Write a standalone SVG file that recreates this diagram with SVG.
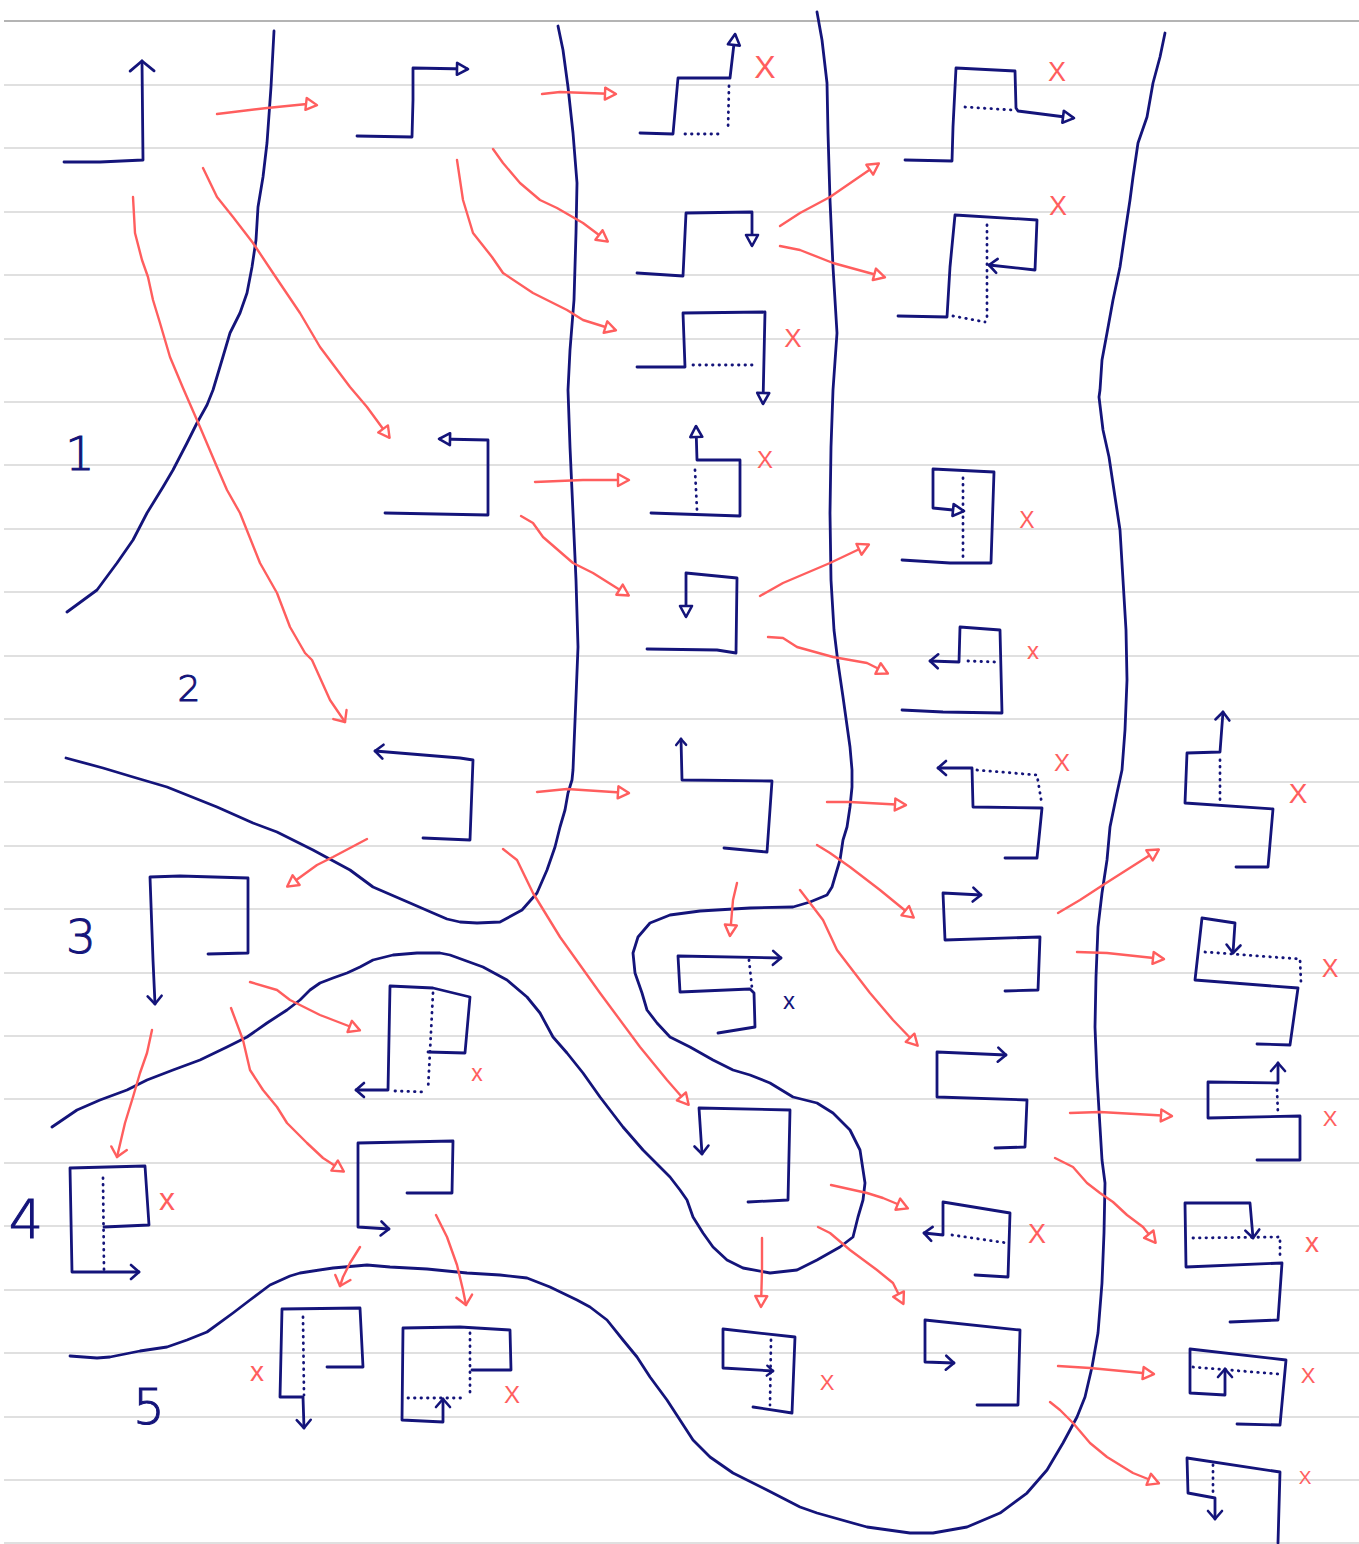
<svg xmlns="http://www.w3.org/2000/svg" width="1359" height="1544" viewBox="0 0 1359 1544">
<style>
.rule{stroke:#d6d6d6;stroke-width:1.6;fill:none}
.b{stroke:#14147a;stroke-width:2.8;fill:none;stroke-linejoin:round;stroke-linecap:round}
.dot{stroke:#14147a;stroke-width:2.8;fill:none;stroke-dasharray:0.5 6;stroke-linecap:round}
.r{stroke:#ff5e5e;stroke-width:2.4;fill:none;stroke-linejoin:round;stroke-linecap:round}
.bt{marker-end:url(#bTri)}
.bc{marker-end:url(#bChev)}
.bs{marker-end:url(#bChevS)}
.rt{marker-end:url(#rTri)}
.rc{marker-end:url(#rChev)}
.xr{fill:#ff5e5e;font-family:"Liberation Sans",Arial,sans-serif;text-anchor:middle}
.xb{fill:#14147a;font-family:"Liberation Sans",Arial,sans-serif;text-anchor:middle}
.num{fill:#14147a;stroke:#14147a;stroke-width:1;font-family:"DejaVu Sans","Liberation Sans",sans-serif;font-weight:200;text-anchor:middle}
</style>
<defs>
<marker id="bTri" markerUnits="userSpaceOnUse" markerWidth="24" markerHeight="24" viewBox="-16 -12 24 24" refX="0" refY="0" orient="auto" overflow="visible"><path d="M1,0 L-10,-6 L-10,6 Z" fill="#fff" stroke="#14147a" stroke-width="2.6" stroke-linejoin="round"/></marker>
<marker id="bChev" markerUnits="userSpaceOnUse" markerWidth="24" markerHeight="24" viewBox="-16 -12 24 24" refX="0" refY="0" orient="auto" overflow="visible"><path d="M-8,-7 L0,0 L-8,7" fill="none" stroke="#14147a" stroke-width="2.6" stroke-linecap="round" stroke-linejoin="round"/></marker>
<marker id="bChevL" markerUnits="userSpaceOnUse" markerWidth="30" markerHeight="30" viewBox="-16 -15 30 30" refX="0" refY="0" orient="auto" overflow="visible"><path d="M-10,-12 L0,0 L-10,12" fill="none" stroke="#14147a" stroke-width="2.8" stroke-linecap="round" stroke-linejoin="round"/></marker>
<marker id="bChevS" markerUnits="userSpaceOnUse" markerWidth="20" markerHeight="20" viewBox="-12 -10 20 20" refX="0" refY="0" orient="auto" overflow="visible"><path d="M-6,-5 L0,0 L-6,5" fill="none" stroke="#14147a" stroke-width="2.4" stroke-linecap="round" stroke-linejoin="round"/></marker>
<marker id="rTri" markerUnits="userSpaceOnUse" markerWidth="24" markerHeight="24" viewBox="-16 -12 24 24" refX="0" refY="0" orient="auto" overflow="visible"><path d="M1,0 L-10,-6 L-10,6 Z" fill="#fff" stroke="#ff5e5e" stroke-width="2.4" stroke-linejoin="round"/></marker>
<marker id="rChev" markerUnits="userSpaceOnUse" markerWidth="24" markerHeight="24" viewBox="-16 -12 24 24" refX="0" refY="0" orient="auto" overflow="visible"><path d="M-9,-8 L0,0 L-9,8" fill="none" stroke="#ff5e5e" stroke-width="2.4" stroke-linecap="round" stroke-linejoin="round"/></marker>
</defs>
<rect width="1359" height="1544" fill="#fff"/>
<g id="ruling">
<line x1="4" y1="21" x2="1359" y2="21" stroke="#b4b4b4" stroke-width="1.8"/>
<path class="rule" d="M4,85H1359M4,148H1359M4,212H1359M4,275H1359M4,339H1359M4,402H1359M4,465H1359M4,529H1359M4,592H1359M4,656H1359M4,719H1359M4,782H1359M4,846H1359M4,909H1359M4,973H1359M4,1036H1359M4,1099H1359M4,1163H1359M4,1226H1359M4,1290H1359M4,1353H1359M4,1417H1359M4,1480H1359M4,1543H1359"/>
</g>
<g id="regions">
<path class="b" d="M274,31 L271,87 L267,143 L263,177 L258,207 L256,240 L252,267 L247,293 L240,313 L230,333 L222,360 L213,390 L207,405 L197,423 L187,443 L173,470 L163,487 L147,513 L133,540 L117,563 L97,590 L67,612"/>
<path class="b" d="M558,26 L563,50 L568,87 L573,133 L577,183 L576,233 L574,300 L570,350 L568,390 L570,447 L573,513 L576,580 L578,647 L576,697 L573,770 L572,780 L568,793 L565,810 L560,827 L555,847 L547,870 L537,893 L522,910 L500,922 L477,923 L460,922 L447,919 L433,913 L410,903 L373,887 L350,870 L313,850 L277,832 L253,823 L217,807 L167,787 L133,777 L103,768 L66,758"/>
<path class="b" d="M817,12 L822,40 L827,83 L828,133 L830,200 L833,267 L837,333 L833,390 L831,447 L830,513 L831,580 L834,630 L838,663 L843,697 L850,747 L852,770 L852,787 L850,807 L847,827 L843,840 L840,860 L837,870 L832,887 L827,895 L810,902 L793,907 L750,908 L700,911 L670,915 L650,923 L638,937 L633,953 L635,973 L642,993 L647,1010 L657,1023 L670,1037 L690,1047 L713,1060 L733,1070 L750,1075 L770,1083 L793,1097 L817,1103 L833,1113 L850,1130 L860,1150 L865,1183 L863,1200 L858,1217 L853,1237 L840,1247 L817,1260 L797,1270 L770,1273 L743,1268 L727,1260 L713,1247 L703,1233 L693,1217 L687,1200 L680,1190 L670,1177 L660,1167 L643,1150 L623,1127 L600,1097 L583,1073 L567,1053 L553,1037 L540,1013 L527,997 L507,980 L483,967 L450,955 L440,953 L417,953 L393,955 L373,960 L360,967 L347,973 L333,978 L320,983 L310,990 L300,1000 L287,1010 L267,1023 L247,1037 L227,1047 L200,1060 L173,1070 L147,1080 L127,1090 L100,1100 L77,1110 L52,1127"/>
<path class="b" d="M1165,33 L1160,57 L1153,83 L1147,117 L1138,143 L1133,177 L1130,200 L1125,233 L1120,267 L1113,300 L1107,333 L1102,360 L1100,390 L1099,397 L1103,430 L1109,457 L1115,497 L1120,530 L1123,580 L1126,630 L1127,680 L1125,730 L1122,770 L1117,793 L1110,827 L1107,860 L1102,893 L1098,927 L1096,977 L1095,1027 L1097,1077 L1100,1127 L1102,1160 L1105,1183 L1104,1233 L1102,1283 L1098,1333 L1092,1367 L1085,1397 L1077,1417 L1063,1443 L1047,1470 L1027,1493 L1000,1513 L967,1527 L933,1533 L910,1533 L867,1527 L817,1513 L800,1507 L767,1490 L733,1473 L710,1457 L693,1440 L680,1420 L667,1400 L650,1377 L637,1357 L623,1340 L607,1320 L590,1307 L577,1300 L550,1287 L527,1278 L500,1275 L467,1273 L427,1269 L390,1267 L367,1265 L333,1268 L300,1273 L290,1276 L270,1285 L250,1300 L233,1313 L207,1332 L187,1340 L167,1347 L140,1351 L110,1357 L97,1358 L70,1356"/>
<text class="num" x="80" y="470" font-size="46">1</text>
<text class="num" x="189" y="701" font-size="36">2</text>
<text class="num" x="81" y="953" font-size="47">3</text>
<text class="num" x="26" y="1238" font-size="54">4</text>
<text class="num" x="149" y="1424" font-size="50">5</text>
</g>
<g id="connectors">
<path class="r rt" d="M217,114 L267,108 L307,104 L316,105"/>
<path class="r rt" d="M542,94 L560,92 L615,94"/>
<path class="r rt" d="M457,160 L463,200 L473,233 L492,257 L503,273 L533,293 L567,310 L583,320 L615,330"/>
<path class="r rt" d="M493,149 L503,163 L520,183 L540,200 L557,208 L583,223 L607,241"/>
<path class="r rt" d="M203,168 L217,197 L233,217 L253,243 L273,273 L300,313 L320,347 L350,387 L367,407 L389,437"/>
<path class="r rc" d="M133,197 L135,233 L142,260 L148,277 L153,300 L160,323 L170,357 L183,388 L200,427 L217,467 L227,490 L240,513 L260,563 L277,593 L290,627 L305,653 L312,660 L330,700 L345,722"/>
<path class="r rt" d="M780,226 L800,213 L830,197 L878,164"/>
<path class="r rt" d="M780,246 L800,250 L833,263 L884,277"/>
<path class="r rt" d="M535,482 L583,480 L628,480"/>
<path class="r rt" d="M521,516 L533,523 L543,537 L573,563 L593,573 L628,595"/>
<path class="r rt" d="M760,596 L783,583 L830,563 L868,545"/>
<path class="r rt" d="M768,637 L783,638 L797,647 L833,657 L867,663 L887,673"/>
<path class="r rt" d="M537,792 L567,789 L628,793"/>
<path class="r rt" d="M367,839 L333,857 L317,865 L288,886"/>
<path class="r rt" d="M503,849 L517,860 L533,893 L560,937 L600,993 L640,1047 L667,1080 L688,1104"/>
<path class="r rt" d="M827,802 L850,802 L905,805"/>
<path class="r rt" d="M817,845 L830,853 L850,867 L880,890 L913,917"/>
<path class="r rt" d="M737,883 L733,900 L730,935"/>
<path class="r rt" d="M800,890 L810,903 L823,920 L837,950 L850,967 L870,993 L893,1020 L917,1045"/>
<path class="r rt" d="M1058,913 L1080,900 L1103,885 L1158,850"/>
<path class="r rt" d="M1077,952 L1107,953 L1163,959"/>
<path class="r rt" d="M250,982 L277,990 L290,1000 L300,1005 L320,1015 L333,1020 L359,1030"/>
<path class="r rc" d="M152,1030 L147,1053 L140,1073 L133,1097 L125,1123 L117,1157"/>
<path class="r rt" d="M231,1008 L243,1040 L250,1070 L263,1090 L277,1107 L287,1123 L307,1143 L323,1158 L343,1171"/>
<path class="r rt" d="M1070,1113 L1100,1112 L1171,1116"/>
<path class="r rt" d="M1055,1158 L1073,1167 L1087,1183 L1100,1193 L1113,1202 L1127,1215 L1143,1227 L1155,1242"/>
<path class="r rt" d="M831,1185 L867,1193 L883,1198 L907,1208"/>
<path class="r rt" d="M818,1227 L830,1233 L850,1250 L877,1270 L893,1283 L903,1303"/>
<path class="r rt" d="M762,1238 L762,1270 L761,1306"/>
<path class="r rc" d="M360,1247 L350,1263 L343,1277 L340,1286"/>
<path class="r rc" d="M436,1215 L447,1237 L457,1265 L463,1290 L466,1305"/>
<path class="r rt" d="M1058,1366 L1090,1368 L1153,1374"/>
<path class="r rt" d="M1050,1402 L1060,1410 L1073,1423 L1090,1443 L1107,1457 L1133,1473 L1158,1483"/>
</g>
<g id="n1"><path class="b" style="marker-end:url(#bChevL)" d="M64,162 L100,162 L143,160 L142,61"/></g>
<g id="n2"><path class="b bt" d="M357,136 L412,137 L413,100 L413,68 L467,69"/></g>
<g id="n3"><path class="b bt" d="M640,133 L673,134 L678,78 L730,78 L735,35"/><path class="dot" d="M729,86 L728,130 M685,134 L723,134"/><text class="xr" x="765" y="78" font-size="32">X</text></g>
<g id="n4"><path class="b bt" d="M637,273 L683,276 L686,213 L752,212 L752,245"/></g>
<g id="n5"><path class="b bt" d="M637,367 L685,367 L683,313 L765,312 L763,403"/><path class="dot" d="M693,365 L758,365"/><text class="xr" x="793" y="347" font-size="26">X</text></g>
<g id="n6"><path class="b bt" d="M905,160 L952,161 L953,127 L956,68 L1015,71 L1016,108 L1018,111 L1073,118"/><path class="dot" d="M965,107 L1012,110"/><text class="xr" x="1057" y="81" font-size="27">X</text></g>
<g id="n7"><path class="b bc" d="M898,316 L947,317 L950,267 L955,215 L1037,220 L1035,270 L989,265"/><path class="dot" d="M987,225 L987,320 M953,316 L985,322"/><text class="xr" x="1058" y="215" font-size="27">X</text></g>
<g id="n8"><path class="b bt" d="M385,513 L488,515 L488,440 L440,439"/></g>
<g id="n9"><path class="b bt" d="M651,513 L740,516 L740,460 L697,460 L696,427"/><path class="dot" d="M695,470 L697,510"/><text class="xr" x="765" y="468" font-size="24">X</text></g>
<g id="n10"><path class="b" style="marker-end:url(#bTri)" d="M647,649 L717,650 L736,653 L737,578 L686,573 L686,616"/></g>
<g id="n11"><path class="b bt" d="M902,560 L950,563 L991,563 L994,472 L933,469 L933,508 L963,511"/><path class="dot" d="M963,478 L963,562"/><text class="xr" x="1027" y="528" font-size="23">X</text></g>
<g id="n12"><path class="b bc" d="M902,710 L943,712 L1002,713 L1000,630 L960,627 L959,662 L930,661"/><path class="dot" d="M968,661 L995,662"/><text class="xr" x="1033" y="659" font-size="24">x</text></g>
<g id="n13"><path class="b bc" d="M423,838 L470,840 L473,760 L460,758 L375,751"/></g>
<g id="n14"><path class="b bs" d="M724,848 L767,852 L772,781 L682,780 L681,739"/></g>
<g id="n15"><path class="b bc" d="M1005,858 L1037,858 L1042,808 L973,807 L972,768 L938,768"/><path class="dot" d="M977,770 L1037,775 L1042,805"/><text class="xr" x="1062" y="771" font-size="24">X</text></g>
<g id="n16"><path class="b bc" d="M1236,867 L1268,867 L1273,809 L1185,803 L1187,753 L1220,752 L1223,712"/><path class="dot" d="M1220,760 L1220,802"/><text class="xr" x="1298" y="803" font-size="28">X</text></g>
<g id="n17"><path class="b bc" d="M208,954 L248,953 L248,878 L180,876 L150,877 L153,960 L155,1004"/></g>
<g id="n18"><path class="b bc" d="M428,1052 L465,1053 L470,997 L433,988 L390,986 L388,1090 L356,1090"/><path class="dot" d="M433,993 L428,1090 M395,1091 L426,1092"/><text class="xr" x="477" y="1081" font-size="23">x</text></g>
<g id="n19"><path class="b bc" d="M718,1033 L755,1027 L754,993 L750,989 L680,992 L678,956 L781,958"/><path class="dot" d="M749,960 L752,988"/><text class="xb" x="789" y="1009" font-size="24">x</text></g>
<g id="n20"><path class="b bc" d="M1005,991 L1038,990 L1040,937 L945,940 L943,893 L981,895"/></g>
<g id="n21"><path class="b bc" d="M1257,1044 L1290,1045 L1298,988 L1195,980 L1202,918 L1235,923 L1233,953"/><path class="dot" d="M1205,952 L1300,959 L1301,983"/><text class="xr" x="1330" y="977" font-size="25">X</text></g>
<g id="n22"><path class="b bc" d="M995,1148 L1025,1147 L1027,1100 L937,1097 L937,1052 L1006,1055"/></g>
<g id="n23"><path class="b bc" d="M1257,1160 L1300,1160 L1300,1116 L1208,1118 L1208,1082 L1278,1083 L1278,1063"/><path class="dot" d="M1277,1090 L1278,1115"/><text class="xr" x="1330" y="1126" font-size="22">X</text></g>
<g id="n24"><path class="b bc" d="M748,1202 L788,1200 L790,1110 L699,1108 L702,1154"/></g>
<g id="n25"><path class="b bc" d="M104,1227 L149,1225 L145,1166 L70,1168 L72,1272 L139,1272"/><path class="dot" d="M103,1178 L104,1270"/><text class="xr" x="167" y="1210" font-size="32">x</text></g>
<g id="n26"><path class="b bc" d="M407,1193 L452,1193 L453,1141 L358,1143 L358,1227 L389,1229"/></g>
<g id="n27"><path class="b bc" d="M327,1367 L363,1367 L360,1308 L282,1309 L280,1397 L303,1397 L304,1428"/><path class="dot" d="M303,1317 L304,1395"/><text class="xr" x="257" y="1381" font-size="28">x</text></g>
<g id="n28"><path class="b bc" d="M472,1370 L511,1370 L510,1330 L460,1327 L403,1328 L402,1420 L443,1422 L443,1399"/><path class="dot" d="M408,1398 L465,1398 M470,1333 L470,1396"/><text class="xr" x="512" y="1403" font-size="24">X</text></g>
<g id="n29"><path class="b bs" d="M753,1407 L792,1413 L795,1337 L723,1329 L723,1368 L773,1371"/><path class="dot" d="M771,1340 L770,1405"/><text class="xr" x="827" y="1390" font-size="22">X</text></g>
<g id="n30"><path class="b bc" d="M975,1275 L1008,1277 L1010,1213 L943,1202 L943,1235 L924,1233"/><path class="dot" d="M952,1235 L1007,1243"/><text class="xr" x="1037" y="1243" font-size="27">X</text></g>
<g id="n31"><path class="b bc" d="M977,1405 L1018,1405 L1020,1330 L925,1320 L925,1362 L954,1363"/></g>
<g id="n32"><path class="b bc" d="M1230,1322 L1278,1320 L1282,1263 L1186,1267 L1185,1203 L1250,1203 L1253,1238"/><path class="dot" d="M1193,1238 L1280,1237 L1280,1257"/><text class="xr" x="1312" y="1252" font-size="28">x</text></g>
<g id="n33"><path class="b bc" d="M1237,1424 L1280,1425 L1286,1360 L1190,1349 L1190,1393 L1225,1395 L1225,1369"/><path class="dot" d="M1193,1367 L1278,1374"/><text class="xr" x="1308" y="1383" font-size="22">X</text></g>
<g id="n34"><path class="b bc" d="M1278,1543 L1280,1472 L1187,1458 L1188,1493 L1215,1498 L1215,1519"/><path class="dot" d="M1213,1465 L1213,1493"/><text class="xr" x="1305" y="1484" font-size="19">X</text></g>
</svg>
